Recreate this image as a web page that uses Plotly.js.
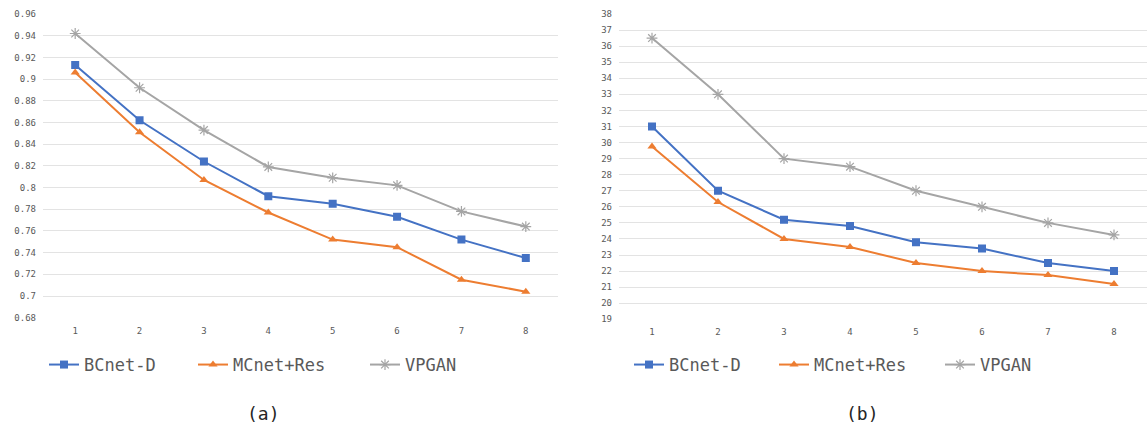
<!DOCTYPE html>
<html>
<head>
<meta charset="utf-8">
<script src="https://cdn.plot.ly/plotly-3.0.1.min.js"></script>
<style>html,body{margin:0;padding:0;background:#fff;}#chart{width:1147px;height:425px;}</style>
</head>
<body>
<div id="chart"></div>
<script>
// ---- data ----
const xCats = [1, 2, 3, 4, 5, 6, 7, 8];
const seriesNames = ["BCnet-D", "MCnet+Res", "VPGAN"];
// chart (a)
const bcnetA = [0.913, 0.862, 0.824, 0.792, 0.785, 0.773, 0.752, 0.735];
const mcnetA = [0.906, 0.851, 0.807, 0.777, 0.752, 0.745, 0.715, 0.704];
const vpganA = [0.942, 0.892, 0.853, 0.819, 0.809, 0.802, 0.778, 0.764];
// chart (b)
const bcnetB = [31.0, 27.0, 25.2, 24.8, 23.8, 23.4, 22.5, 22.0];
const mcnetB = [29.75, 26.3, 24.0, 23.5, 22.5, 22.0, 21.75, 21.2];
const vpganB = [36.5, 33.0, 29.0, 28.5, 27.0, 26.0, 25.0, 24.25];
// tick labels
const yTicksA = [0.68, 0.7, 0.72, 0.74, 0.76, 0.78, 0.8, 0.82, 0.84, 0.86, 0.88, 0.9, 0.92, 0.94, 0.96];
const yTickTextA = ["0.68", "0.7", "0.72", "0.74", "0.76", "0.78", "0.8", "0.82", "0.84", "0.86", "0.88", "0.9", "0.92", "0.94", "0.96"];
const yTicksB = [19, 20, 21, 22, 23, 24, 25, 26, 27, 28, 29, 30, 31, 32, 33, 34, 35, 36, 37, 38];
const panelLabels = ["(a)", "(b)"];

// ---- styles ----
const colors = ["#4472C4", "#ED7D31", "#A5A5A5"];
const symbols = ["square", "triangle-up", "asterisk-open"];
const msizes = [8, 8, 9];
const mono = "DejaVu Sans Mono";
const tickFont = {family: mono, size: 9, color: "#595959"};
const gridColor = "#E3E3E3";

function mk(name, y, i, xa, ya, legendId) {
  return {
    x: xCats, y: y, name: name, type: "scatter", mode: "lines+markers",
    xaxis: xa, yaxis: ya, legend: legendId,
    line: {color: colors[i], width: 2},
    marker: {symbol: symbols[i], size: msizes[i], color: colors[i], line: {color: colors[i], width: i === 2 ? 1.2 : 0}}
  };
}

const data = [
  mk(seriesNames[0], bcnetA, 0, "x", "y", "legend"),
  mk(seriesNames[1], mcnetA, 1, "x", "y", "legend2"),
  mk(seriesNames[2], vpganA, 2, "x", "y", "legend3"),
  mk(seriesNames[0], bcnetB, 0, "x2", "y2", "legend4"),
  mk(seriesNames[1], mcnetB, 1, "x2", "y2", "legend5"),
  mk(seriesNames[2], vpganB, 2, "x2", "y2", "legend6")
];

const W = 1147, H = 425;
function legendAt(px) {
  return {x: px / W, xanchor: "left", y: 1 - 365 / H, yanchor: "middle", orientation: "h",
          font: {family: mono, size: 17, color: "#595959"}, bgcolor: "rgba(0,0,0,0)", borderwidth: 0};
}

const xBase = {
  range: [0.5, 8.5], tickmode: "array", tickvals: xCats, showgrid: false, zeroline: false,
  showline: false, ticks: "", tickfont: tickFont, fixedrange: true, ticklabelstandoff: 6
};
const yBase = {
  showgrid: true, gridcolor: gridColor, gridwidth: 1, zeroline: false, showline: false,
  ticks: "", tickfont: tickFont, fixedrange: true, tickmode: "array"
};

const layout = {
  width: W, height: H,
  margin: {l: 0, r: 0, t: 0, b: 0},
  paper_bgcolor: "#ffffff", plot_bgcolor: "#ffffff",
  showlegend: true,
  xaxis: Object.assign({}, xBase, {domain: [43 / W, 558 / W], anchor: "y"}),
  yaxis: Object.assign({}, yBase, {domain: [1 - 317.7 / H, 1 - 14 / H], range: [0.68, 0.96], tickvals: yTicksA, ticktext: yTickTextA, anchor: "x", ticklabelstandoff: 6}),
  xaxis2: Object.assign({}, xBase, {domain: [619 / W, 1], anchor: "y2"}),
  yaxis2: Object.assign({}, yBase, {domain: [1 - 319.3 / H, 1 - 14 / H], range: [19, 38], tickvals: yTicksB, anchor: "x2", ticklabelstandoff: 6}),
  legend: legendAt(44), legend2: legendAt(193), legend3: legendAt(365),
  legend4: legendAt(629), legend5: legendAt(774), legend6: legendAt(940),
  annotations: [
    {text: panelLabels[0], xref: "paper", yref: "paper", x: 263 / W, y: 1 - 413 / H, xanchor: "center", yanchor: "middle", showarrow: false, font: {family: mono, size: 18, color: "#262626"}},
    {text: panelLabels[1], xref: "paper", yref: "paper", x: 862 / W, y: 1 - 413 / H, xanchor: "center", yanchor: "middle", showarrow: false, font: {family: mono, size: 18, color: "#262626"}}
  ]
};

Plotly.newPlot("chart", data, layout, {displayModeBar: false, staticPlot: true});
</script>
</body>
</html>
